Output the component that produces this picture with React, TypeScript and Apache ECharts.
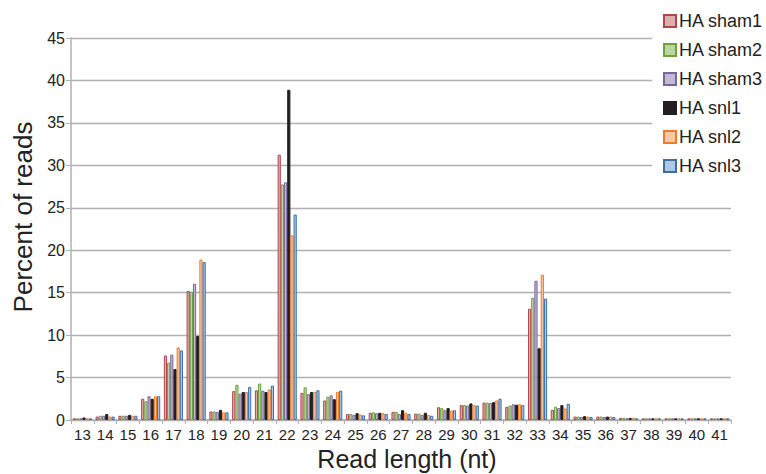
import React, { useEffect, useRef } from "react";
import * as echarts from "echarts";

const categories = ["13","14","15","16","17","18","19","20","21","22","23","24","25","26","27","28","29","30","31","32","33","34","35","36","37","38","39","40","41"];
const seriesNames = ["HA sham1","HA sham2","HA sham3","HA snl1","HA snl2","HA snl3"];

const sham1 = [0.2,0.4,0.5,2.5,7.6,15.2,1.0,3.4,3.5,31.25,3.2,2.3,0.7,0.85,0.95,0.75,1.5,1.75,2.05,1.55,13.1,1.2,0.4,0.4,0.25,0.2,0.2,0.2,0.2];
const sham2 = [0.2,0.5,0.5,2.2,6.75,15.1,1.0,4.15,4.3,27.75,3.85,2.75,0.7,0.9,0.95,0.75,1.4,1.75,2.05,1.7,14.4,1.55,0.4,0.4,0.25,0.2,0.2,0.2,0.2];
const sham3 = [0.2,0.5,0.5,2.8,7.7,16.05,0.95,3.1,3.45,28.0,3.05,2.9,0.6,0.8,0.7,0.6,1.15,1.7,2.0,1.85,16.4,1.4,0.35,0.35,0.2,0.2,0.2,0.2,0.2];
const snl1 = [0.3,0.7,0.6,2.5,6.0,9.9,1.2,3.3,3.3,38.9,3.3,2.45,0.8,0.85,1.15,0.85,1.4,1.95,2.1,1.8,8.45,1.75,0.45,0.4,0.25,0.2,0.2,0.2,0.2];
const snl2 = [0.2,0.4,0.5,2.8,8.55,18.9,0.9,3.3,3.6,21.75,3.3,3.3,0.65,0.8,0.85,0.6,1.1,1.75,2.3,1.85,17.1,1.35,0.4,0.4,0.25,0.2,0.2,0.2,0.2];
const snl3 = [0.2,0.4,0.5,2.8,8.2,18.6,0.9,3.9,4.05,24.2,3.5,3.45,0.55,0.7,0.7,0.5,1.15,1.7,2.5,1.75,14.3,1.9,0.35,0.35,0.2,0.2,0.2,0.2,0.2];

const fills = ["#e0adad","#bcd6a0","#c2b8d8","#231f20","#f9c9a3","#adc8e4"];
const borders = ["#b0464a","#739f43","#7a6799","#231f20","#ef7b2a","#3a6ea8"];

export default function App() {
  const ref = useRef<HTMLDivElement>(null);
  useEffect(() => {
    if (!ref.current) return;
    const chart = echarts.init(ref.current, undefined, { renderer: "svg" });
    const data = [sham1, sham2, sham3, snl1, snl2, snl3];
    const font = "Liberation Sans";
    chart.setOption({
      animation: false,
      textStyle: { fontFamily: font },
      grid: { left: 71, right: 35, top: 38, bottom: 54, outerBoundsMode: "none", containLabel: false },
      legend: {
        orient: "vertical",
        left: 652,
        top: 7,
        padding: [5, 5, 5, 11],
        backgroundColor: "#ffffff",
        itemWidth: 12,
        itemHeight: 12,
        itemGap: 11,
        icon: "rect",
        textStyle: { fontSize: 18, color: "#222", fontFamily: font, padding: [0, 0, 0, -2] },
        data: seriesNames,
      },
      xAxis: {
        type: "category",
        data: categories,
        name: "Read length (nt)",
        nameLocation: "middle",
        nameGap: 22,
        nameTextStyle: { fontSize: 25, color: "#222", fontFamily: font, padding: [0, 0, 0, 12] },
        axisLine: { lineStyle: { color: "#b0b0b0", width: 1.5 } },
        axisTick: { show: true, length: 4, lineStyle: { color: "#b0b0b0" } },
        axisLabel: { fontSize: 15, color: "#222", margin: 7, interval: 0, fontFamily: font },
      },
      yAxis: {
        type: "value",
        min: 0,
        max: 45,
        interval: 5,
        name: "Percent of reads",
        nameLocation: "middle",
        nameRotate: 90,
        nameGap: 32,
        nameTextStyle: { fontSize: 26, color: "#222", fontFamily: font, padding: [0, 0, 0, 24] },
        axisLine: { show: true, lineStyle: { color: "#b0b0b0", width: 1.5 } },
        axisTick: { show: true, length: 5, lineStyle: { color: "#b0b0b0" } },
        axisLabel: { fontSize: 16, color: "#222", margin: 6, fontFamily: font },
        splitLine: { lineStyle: { color: "#b0b0b0", width: 1.3 } },
      },
      series: seriesNames.map((n, i) => ({
        name: n,
        type: "bar",
        data: data[i],
        barGap: "0%",
        barCategoryGap: "16%",
        itemStyle: { color: fills[i], borderColor: borders[i], borderWidth: 1 },
      })),
    });
    return () => chart.dispose();
  }, []);
  return <div ref={ref} style={{ width: 766, height: 474, position: "absolute", left: 0, top: 0 }} />;
}
